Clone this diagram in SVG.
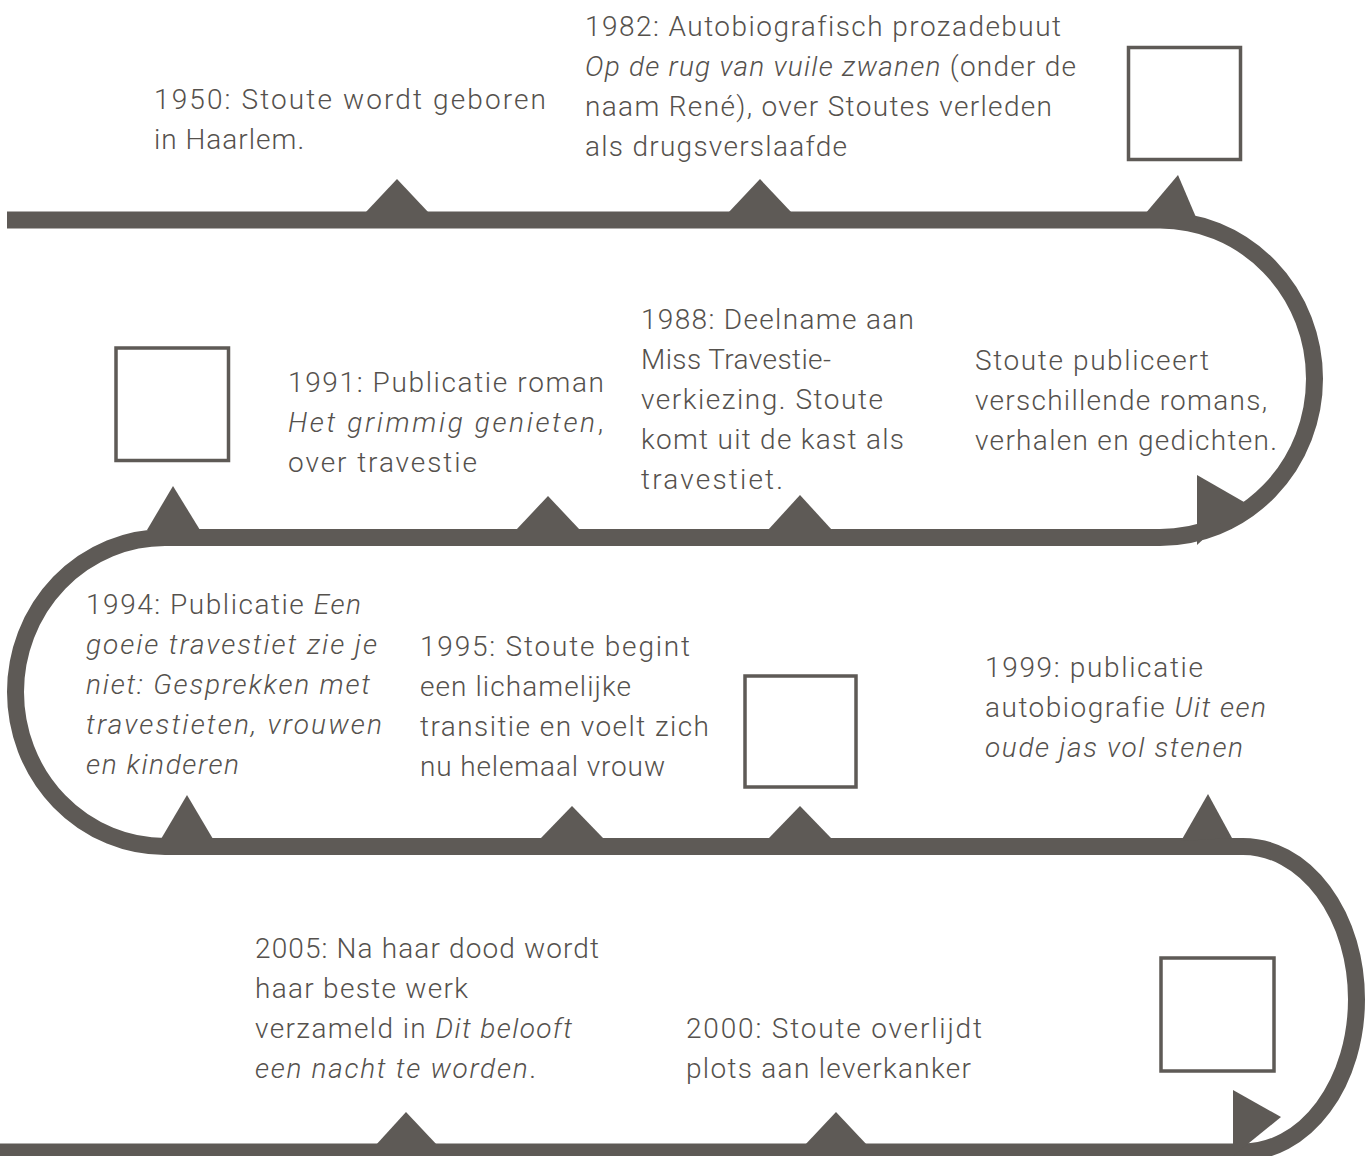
<svg xmlns="http://www.w3.org/2000/svg" width="1371" height="1156" viewBox="0 0 1371 1156">
<style>
.track{fill:none;stroke:#5e5a56;stroke-width:17}
.tri{fill:#5e5a56}
.box{fill:none;stroke:#5e5a56;stroke-width:3.5}
text{font-family:Roboto,"Liberation Sans",sans-serif;font-weight:300;font-size:28px;fill:#55514d;letter-spacing:1px}
.i{font-style:italic}
</style>
<rect width="1371" height="1156" fill="#ffffff"/>
<g id="connectors">
<path class="track" d="M7 220 H1160 A154.5 158.75 0 0 1 1160 537.5 H165 A149.5 154.5 0 0 0 165 846.5 H1243 A113.5 152.75 0 0 1 1243 1152 H0"/>
<polygon class="tri" points="397,179 365,213 429,213"/>
<polygon class="tri" points="760,179 728,213 792,213"/>
<polygon class="tri" points="1178,175 1145,214 1145,228 1198,228 1198,222"/>
<polygon class="tri" points="1197,475 1244,502 1197,545"/>
<polygon class="tri" points="800,495 768,530 832,530"/>
<polygon class="tri" points="548,496 516,530 580,530"/>
<polygon class="tri" points="173,486 147,530 200,530"/>
<polygon class="tri" points="187,795 161,839 213,839"/>
<polygon class="tri" points="572,806 540,839 604,839"/>
<polygon class="tri" points="800,806 768,839 832,839"/>
<polygon class="tri" points="1208,794 1181,841 1232,838"/>
<polygon class="tri" points="1233,1090 1281,1117 1233,1156"/>
<polygon class="tri" points="406,1112 375,1146 438,1146"/>
<polygon class="tri" points="836,1112 804,1146 868,1146"/>
</g>
<g id="box1"><rect class="box" x="1128.5" y="47.5" width="112" height="112"/></g>
<g id="box2"><rect class="box" x="116" y="348" width="112.5" height="112.5"/></g>
<g id="box3"><rect class="box" x="745" y="676" width="111" height="111"/></g>
<g id="box4"><rect class="box" x="1161" y="958" width="113" height="113"/></g>
<g id="e1950">
<text x="154" y="109" textLength="393" lengthAdjust="spacing">1950: Stoute wordt geboren</text>
<text x="154" y="149">in Haarlem.</text>
</g>
<g id="e1982">
<text x="585" y="36" textLength="477" lengthAdjust="spacing">1982: Autobiografisch prozadebuut</text>
<text x="585" y="76" textLength="492" lengthAdjust="spacing"><tspan class="i">Op de rug van vuile zwanen</tspan> (onder de</text>
<text x="585" y="116" textLength="468" lengthAdjust="spacing">naam René), over Stoutes verleden</text>
<text x="585" y="156" textLength="263" lengthAdjust="spacing">als drugsverslaafde</text>
</g>
<g id="e1988">
<text x="641" y="329" textLength="274" lengthAdjust="spacing">1988: Deelname aan</text>
<text x="641" y="369" textLength="191" lengthAdjust="spacing">Miss Travestie-</text>
<text x="641" y="409" textLength="243" lengthAdjust="spacing">verkiezing. Stoute</text>
<text x="641" y="449" textLength="264" lengthAdjust="spacing">komt uit de kast als</text>
<text x="641" y="489" textLength="143" lengthAdjust="spacing">travestiet.</text>
</g>
<g id="e1991">
<text x="288" y="392" textLength="317" lengthAdjust="spacing">1991: Publicatie roman</text>
<text x="288" y="432" textLength="316" lengthAdjust="spacing"><tspan class="i">Het grimmig genieten</tspan>,</text>
<text x="288" y="472" textLength="190" lengthAdjust="spacing">over travestie</text>
</g>
<g id="epubliceert">
<text x="975" y="370" textLength="235" lengthAdjust="spacing">Stoute publiceert</text>
<text x="975" y="410" textLength="293" lengthAdjust="spacing">verschillende romans,</text>
<text x="975" y="450" textLength="303" lengthAdjust="spacing">verhalen en gedichten.</text>
</g>
<g id="e1994">
<text x="86" y="614" textLength="276" lengthAdjust="spacing">1994: Publicatie <tspan class="i">Een</tspan></text>
<text x="86" y="654" class="i" textLength="292" lengthAdjust="spacing">goeie travestiet zie je</text>
<text x="86" y="694" class="i" textLength="285" lengthAdjust="spacing">niet: Gesprekken met</text>
<text x="86" y="734" class="i" textLength="297" lengthAdjust="spacing">travestieten, vrouwen</text>
<text x="86" y="774" class="i" textLength="154" lengthAdjust="spacing">en kinderen</text>
</g>
<g id="e1995">
<text x="420" y="656" textLength="271" lengthAdjust="spacing">1995: Stoute begint</text>
<text x="420" y="696" textLength="212" lengthAdjust="spacing">een lichamelijke</text>
<text x="420" y="736" textLength="290" lengthAdjust="spacing">transitie en voelt zich</text>
<text x="420" y="776" textLength="246" lengthAdjust="spacing">nu helemaal vrouw</text>
</g>
<g id="e1999">
<text x="985" y="677" textLength="219" lengthAdjust="spacing">1999: publicatie</text>
<text x="985" y="717" textLength="282" lengthAdjust="spacing">autobiografie <tspan class="i">Uit een</tspan></text>
<text x="985" y="757" class="i" textLength="259" lengthAdjust="spacing">oude jas vol stenen</text>
</g>
<g id="e2005">
<text x="255" y="958" textLength="345" lengthAdjust="spacing">2005: Na haar dood wordt</text>
<text x="255" y="998" textLength="214" lengthAdjust="spacing">haar beste werk</text>
<text x="255" y="1038" textLength="318" lengthAdjust="spacing">verzameld in <tspan class="i">Dit belooft</tspan></text>
<text x="255" y="1078" textLength="282" lengthAdjust="spacing"><tspan class="i">een nacht te worden</tspan>.</text>
</g>
<g id="e2000">
<text x="686" y="1038" textLength="297" lengthAdjust="spacing">2000: Stoute overlijdt</text>
<text x="686" y="1078" textLength="286" lengthAdjust="spacing">plots aan leverkanker</text>
</g>
</svg>
